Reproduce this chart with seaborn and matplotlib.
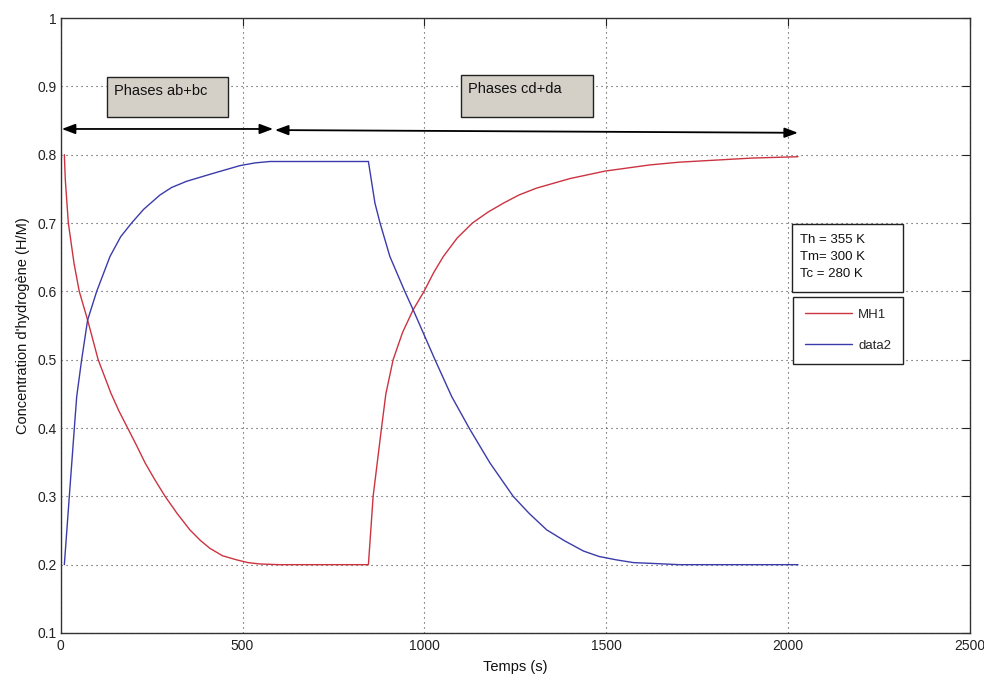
import matplotlib
matplotlib.use("Agg")
import matplotlib.pyplot as plt
import seaborn as sns
import pandas as pd
from matplotlib.patches import Rectangle

# ---- data ----
t_mh1 = [10, 12.7, 21, 36.6, 51, 74, 103, 138, 160, 186, 208, 232, 258, 287, 320, 355, 385,
         410, 445, 484, 515, 548, 600, 846,
         859, 882, 894, 914, 940, 969, 999, 1025, 1052, 1090, 1132, 1175, 1217, 1260, 1308,
         1400, 1497, 1620, 1700, 1800, 1900, 2027]
c_mh1 = [0.800, 0.763, 0.700, 0.641, 0.600, 0.558, 0.500, 0.451, 0.425, 0.398, 0.375, 0.349,
         0.325, 0.300, 0.275, 0.251, 0.235, 0.224, 0.213, 0.207, 0.203, 0.201, 0.200, 0.200,
         0.300, 0.400, 0.450, 0.500, 0.540, 0.573, 0.600, 0.627, 0.651, 0.678, 0.700, 0.716,
         0.729, 0.741, 0.751, 0.765, 0.776, 0.785, 0.789, 0.792, 0.795, 0.797]

t_data2 = [10, 23.7, 37.5, 44, 57.6, 74, 99, 135.5, 165, 195, 228, 273, 305, 346, 415, 493,
           535, 575, 846,
           864, 878, 905, 946, 969, 1029, 1075, 1125, 1180, 1244, 1288, 1336, 1385, 1437,
           1480, 1528, 1575, 1620, 1700, 2027]
c_data2 = [0.200, 0.300, 0.400, 0.446, 0.500, 0.558, 0.600, 0.651, 0.680, 0.700, 0.720,
           0.741, 0.752, 0.761, 0.772, 0.784, 0.788, 0.790, 0.790,
           0.729, 0.700, 0.651, 0.600, 0.573, 0.500, 0.446, 0.398, 0.349, 0.300, 0.275,
           0.251, 0.235, 0.220, 0.212, 0.207, 0.203, 0.202, 0.200, 0.200]

series_names = ["MH1", "data2"]
series_colors = ["#cc3340", "#3b3bab"]

phase_labels = ["Phases ab+bc", "Phases cd+da"]
phase_arrows = [(3, 0.8376, 584, 0.8376), (589, 0.836, 2027, 0.832)]
phase_boxes = [(127, 0.855, 333, 0.0587), (1100, 0.855, 363, 0.0616)]

info_text = "Th = 355 K\nTm= 300 K\nTc = 280 K"

x_ticks = [0, 500, 1000, 1500, 2000, 2500]
y_ticks = [0.1, 0.2, 0.3, 0.4, 0.5, 0.6, 0.7, 0.8, 0.9, 1.0]
y_tick_labels = ["0.1", "0.2", "0.3", "0.4", "0.5", "0.6", "0.7", "0.8", "0.9", "1"]

df = pd.concat([
    pd.DataFrame({"Temps": t_mh1, "C": c_mh1, "serie": "MH1"}),
    pd.DataFrame({"Temps": t_data2, "C": c_data2, "serie": "data2"}),
], ignore_index=True)

sns.set_style("white")
plt.rcParams["font.family"] = ["Liberation Sans", "DejaVu Sans"]

W, H = 984, 675
fig = plt.figure(figsize=(W / 100, H / 100), dpi=100)
ax = fig.add_axes([60.7 / W, 1 - 633 / H, (970 - 60.7) / W, (633 - 18) / H])

sns.lineplot(data=df, x="Temps", y="C", hue="serie", hue_order=series_names,
             palette=dict(zip(series_names, series_colors)), sort=False,
             estimator=None, linewidth=1.0, ax=ax)

ax.set_xlim(0, 2500)
ax.set_ylim(0.1, 1.0)
ax.set_xticks(x_ticks)
ax.set_xticklabels([str(v) for v in x_ticks])
ax.set_yticks(y_ticks)
ax.set_yticklabels(y_tick_labels)
ax.grid(True, linestyle=(0, (1, 3.5)), color="#444444", linewidth=0.8)
ax.tick_params(direction="in", length=6, width=0.8, top=True, right=True,
               labelsize=10, colors="#222222", pad=3)
ax.tick_params(axis="x", pad=4)
for s in ax.spines.values():
    s.set_color("#333333")
    s.set_linewidth(1.0)
ax.set_xlabel("Temps (s)", fontsize=10.5, labelpad=5, color="#111111")
ax.set_ylabel("Concentration d'hydrogène (H/M)", fontsize=10.5, labelpad=5, color="#111111")

# arrows
for (x0, y0, x1, y1) in phase_arrows:
    ax.annotate("", xy=(x1, y1), xytext=(x0, y0),
                arrowprops=dict(arrowstyle="<|-|>,head_length=0.8,head_width=0.3",
                                color="black", lw=1.3, shrinkA=0, shrinkB=0))

# phase boxes
for (bx, by, bw, bh), lab in zip(phase_boxes, phase_labels):
    ax.add_patch(Rectangle((bx, by), bw, bh, facecolor="#d4d0c8", edgecolor="#222222",
                           linewidth=1.0, zorder=5))
    ax.text(bx + 20, by + bh * 0.66, lab, fontsize=10.5, va="center", ha="left", zorder=6,
            color="#111111")

# info box (figure coords)
fig.patches.append(Rectangle((792 / W, 1 - 292 / H), (903 - 792) / W, (292 - 224) / H,
                             transform=fig.transFigure, facecolor="white",
                             edgecolor="#222222", linewidth=1.0, zorder=5))
fig.text(800 / W, 1 - 257 / H, info_text, fontsize=9.5, va="center", ha="left",
         linespacing=1.6, zorder=6, color="#111111")

# legend
leg = ax.legend(loc="upper left", bbox_to_anchor=(793 / W, 1 - 297 / H),
                bbox_transform=fig.transFigure, frameon=True, fancybox=False,
                edgecolor="#222222", fontsize=9.5, handlelength=3.6, handletextpad=0.45,
                labelspacing=1.4, borderpad=0.9, borderaxespad=0, title=None)
leg.get_frame().set_linewidth(1.0)
leg.get_frame().set_facecolor("white")
leg.get_frame().set_alpha(1)
for line in leg.get_lines():
    line.set_linewidth(1.0)

fig.savefig("out.png", dpi=100)
